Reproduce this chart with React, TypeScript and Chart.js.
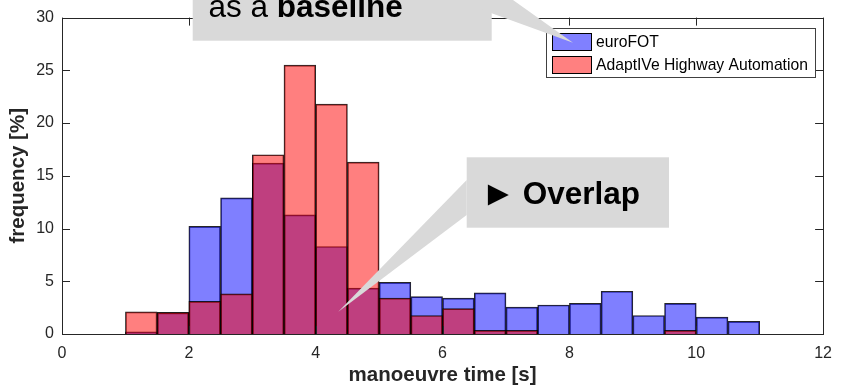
import React, { useEffect, useRef } from 'react';
import { Chart, registerables } from 'chart.js';

Chart.register(...registerables);

// Histogram bins (0.5 s wide) – bin centres in seconds
const binCenters = [1.25, 1.75, 2.25, 2.75, 3.25, 3.75, 4.25, 4.75, 5.25, 5.75, 6.25, 6.75, 7.25, 7.75, 8.25, 8.75, 9.25, 9.75, 10.25, 10.75];

// frequency [%]
const euroFOT = [0.2, 2.0, 10.2, 12.9, 16.2, 11.3, 8.3, 4.35, 4.9, 3.55, 3.4, 3.9, 2.55, 2.75, 2.9, 4.05, 1.75, 2.9, 1.6, 1.2];
const adaptIVe = [2.1, 2.05, 3.1, 3.8, 17.0, 25.5, 21.8, 16.3, 3.4, 1.75, 2.4, 0.35, 0.35, 0, 0, 0, 0, 0.35, 0, 0];

const seriesNames = ['euroFOT', 'AdaptIVe Highway Automation'];
const xTicks = [0, 2, 4, 6, 8, 10, 12];
const yTicks = [0, 5, 10, 15, 20, 25, 30];

const FONT = '"Liberation Sans", Arial, Helvetica, sans-serif';
const AXIS = '#262626';
const BLUE = 'rgba(0,0,255,0.5)';
const RED = 'rgba(255,0,0,0.5)';
const EDGE = 'rgba(0,0,0,0.85)';
const CALLOUT = '#d9d9d9';

const decorPlugin = {
  id: 'decor',
  afterDatasetsDraw(chart: any) {
    const { ctx, chartArea: ca, scales } = chart;
    const xs = scales.x;
    const ys = scales.y;
    ctx.save();
    // frame (box on)
    ctx.strokeStyle = AXIS;
    ctx.lineWidth = 1;
    ctx.strokeRect(Math.round(ca.left) + 0.5, Math.round(ca.top) + 0.5, Math.round(ca.right - ca.left), Math.round(ca.bottom - ca.top));
    // inward ticks
    const tl = 8;
    ctx.beginPath();
    xTicks.forEach((v) => {
      const px = Math.round(xs.getPixelForValue(v)) + 0.5;
      ctx.moveTo(px, ca.bottom);
      ctx.lineTo(px, ca.bottom - tl);
      ctx.moveTo(px, ca.top);
      ctx.lineTo(px, ca.top + tl);
    });
    yTicks.forEach((v) => {
      const py = Math.round(ys.getPixelForValue(v)) + 0.5;
      ctx.moveTo(ca.left, py);
      ctx.lineTo(ca.left + tl, py);
      ctx.moveTo(ca.right, py);
      ctx.lineTo(ca.right - tl, py);
    });
    ctx.stroke();

    // legend
    const lx = 546.5, ly = 28.5, lw = 269, lh = 49;
    ctx.fillStyle = '#ffffff';
    ctx.fillRect(lx, ly, lw, lh);
    ctx.strokeStyle = '#404040';
    ctx.strokeRect(lx, ly, lw, lh);
    const fills = ['#8080ff', '#ff8080'];
    const rows = [33.5, 56.5];
    ctx.font = `15.7px ${FONT}`;
    ctx.textBaseline = 'middle';
    ctx.textAlign = 'left';
    rows.forEach((ry, i) => {
      ctx.fillStyle = fills[i];
      ctx.fillRect(552.5, ry, 39, 17);
      ctx.strokeStyle = '#000';
      ctx.strokeRect(552.5, ry, 39, 17);
      ctx.fillStyle = '#000';
      ctx.fillText(seriesNames[i], 596, ry + 9);
    });

    // callout 1: "as a baseline"
    ctx.fillStyle = CALLOUT;
    ctx.fillRect(192.7, -30, 299, 70.7);
    ctx.beginPath();
    ctx.moveTo(480, -23.5);
    ctx.lineTo(573, 42.7);
    ctx.lineTo(480, 9.1);
    ctx.closePath();
    ctx.fill();
    ctx.fillStyle = '#000';
    ctx.textBaseline = 'alphabetic';
    ctx.font = `31.5px ${FONT}`;
    const t1 = 'as a ';
    ctx.fillText(t1, 208.5, 17);
    const w1 = ctx.measureText(t1).width;
    ctx.font = `bold 31.5px ${FONT}`;
    ctx.fillText('baseline', 208.5 + w1, 17);

    // callout 2: "► Overlap"
    ctx.fillStyle = CALLOUT;
    ctx.fillRect(466.7, 157.3, 202.3, 70.4);
    ctx.beginPath();
    ctx.moveTo(466.7, 180);
    ctx.lineTo(338.3, 311.7);
    ctx.lineTo(466.7, 215);
    ctx.closePath();
    ctx.fill();
    ctx.fillStyle = '#000';
    ctx.font = `bold 35px ${FONT}`;
    ctx.fillText('►', 481, 205);
    ctx.font = `bold 31.5px ${FONT}`;
    ctx.fillText('Overlap', 522.7, 204.3);
    ctx.restore();
  },
};

export default function App() {
  const ref = useRef<HTMLCanvasElement>(null);
  useEffect(() => {
    document.body.style.margin = '0';
    const canvas = ref.current!;
    const toPts = (vals: number[]) => binCenters.map((x, i) => ({ x, y: vals[i] }));
    const chart = new Chart(canvas, {
      type: 'bar',
      data: {
        datasets: [
          {
            label: seriesNames[1],
            data: toPts(adaptIVe),
            backgroundColor: RED,
            borderColor: EDGE,
            borderWidth: 1,
            grouped: false,
            barPercentage: 1,
            categoryPercentage: 1,
            order: 1,
          },
          {
            label: seriesNames[0],
            data: toPts(euroFOT),
            backgroundColor: BLUE,
            borderColor: EDGE,
            borderWidth: 1,
            grouped: false,
            barPercentage: 1,
            categoryPercentage: 1,
            order: 2,
          },
        ] as any,
      },
      options: {
        responsive: false,
        animation: false,
        events: [],
        layout: { padding: { top: 12, right: 9, left: 0, bottom: 0 } },
        plugins: { legend: { display: false }, tooltip: { enabled: false } },
        scales: {
          x: {
            type: 'linear',
            min: 0,
            max: 12,
            offset: false,
            grid: { display: false, drawTicks: false },
            border: { display: false },
            ticks: { stepSize: 2, padding: 10, maxRotation: 0, color: AXIS, font: { size: 16, family: FONT } },
            title: { display: true, text: 'manoeuvre time [s]', color: AXIS, font: { size: 20.5, weight: 'bold', family: FONT }, padding: { top: 0, bottom: 2 } },
            afterFit: (s: any) => { s.height = 56; },
          },
          y: {
            min: 0,
            max: 30,
            grid: { display: false, drawTicks: false },
            border: { display: false },
            ticks: { stepSize: 5, padding: 8, color: AXIS, font: { size: 16, family: FONT } },
            title: { display: true, text: 'frequency [%]', color: AXIS, font: { size: 20.5, weight: 'bold', family: FONT }, padding: { top: 6, bottom: 0 } },
            afterFit: (s: any) => { s.width = 62; },
          },
        },
      } as any,
      plugins: [decorPlugin],
    });
    return () => chart.destroy();
  }, []);
  return (
    <div style={{ position: 'fixed', left: 0, top: 0, width: 842, height: 390, background: '#fff' }}>
      <canvas ref={ref} width={842} height={390} />
    </div>
  );
}
